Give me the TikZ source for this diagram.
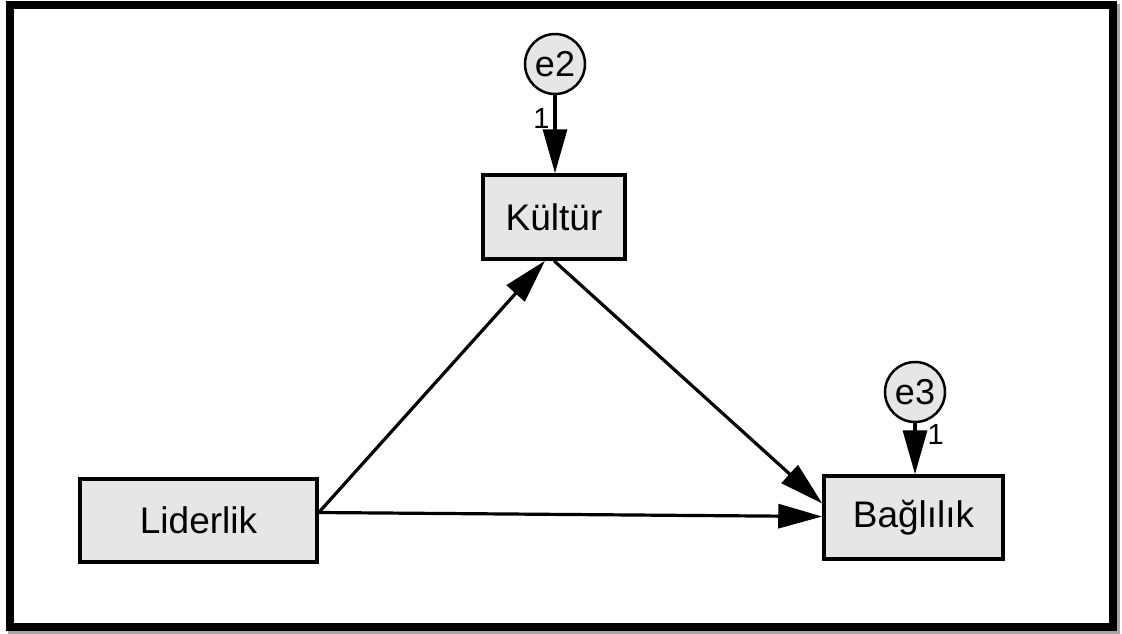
\documentclass[tikz,border=0pt]{standalone}
\usepackage{fontspec}
\setmainfont{Liberation Sans}
\usetikzlibrary{arrows.meta,calc}
\definecolor{boxfill}{HTML}{E6E6E6}
\tikzset{
  var/.style={draw=black, line width=3.5pt, fill=boxfill, rectangle, inner sep=0pt,
    font=\fontsize{37}{42}\selectfont},
  err/.style={draw=black, line width=2.5pt, fill=boxfill, circle, inner sep=0pt,
    minimum size=60pt, font=\fontsize{36}{40}\selectfont},
  path/.style={line width=3.2pt, -{Triangle[length=44pt,width=24pt]}},
  wlabel/.style={font=\fontsize{29}{32}\selectfont, inner sep=0pt}
}
\begin{document}
\begin{tikzpicture}[x=1pt,y=-1pt]
  \useasboundingbox (0,0) rectangle (1122,633);
  % outer frame with a faint shadow
  \draw[line width=8pt, color=black!35] (12,8) rectangle (1116,630);
  \draw[line width=8pt, fill=white] (10,5) rectangle (1113,627);

  % observed variables
  \node[var, minimum width=142pt, minimum height=84pt] (kul) at (554,217) {Kültür};
  \node[var, minimum width=237pt, minimum height=83pt] (lid) at (198.5,520.5) {Liderlik};
  \node[var, minimum width=179pt, minimum height=83pt] (bag) at (913.5,517.5) {Bağlılık};

  % error terms
  \node[err] (e2) at (555,64) {e2};
  \node[err] (e3) at (915,392) {e3};

  % structural paths
  \draw[path] ($(lid.east)+(0,-8)$) -- ($(kul.south)+(-9,0)$);
  \draw[path] ($(lid.east)+(0,-8)$) -- ($(bag.west)+(0,-1)$);
  \draw[path] (kul.south) -- ($(bag.west)+(0,-14)$);

  % error paths with fixed weights
  \draw[path] (e2.south) -- (e2.south |- kul.north)
    node[wlabel, pos=0.3, left=4pt] {1};
  \draw[path] (e3.south) -- (e3.south |- bag.north)
    node[wlabel, pos=0.22, right=11pt] {1};
\end{tikzpicture}
\end{document}
